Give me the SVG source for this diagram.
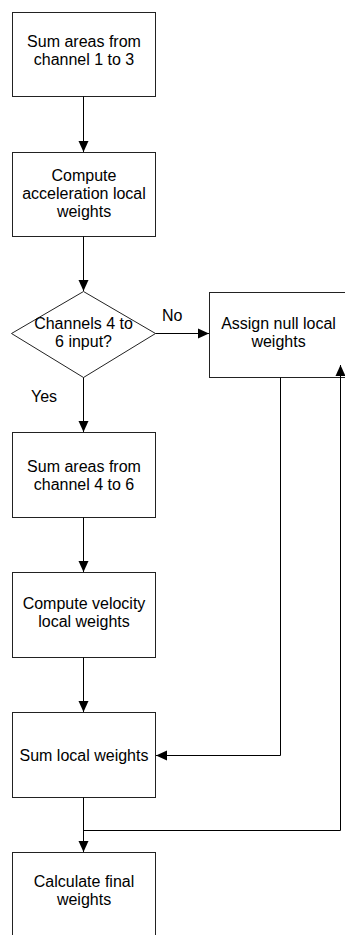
<svg xmlns="http://www.w3.org/2000/svg" width="345" height="935" viewBox="0 0 345 935">
<defs>
<style>
.box{fill:#fff;stroke:#222;stroke-width:1}
.t{font-family:"Liberation Sans",Arial,sans-serif;font-size:16px;fill:#000;text-anchor:middle}
.l{font-family:"Liberation Sans",Arial,sans-serif;font-size:16px;fill:#000}
.c{fill:none;stroke:#000;stroke-width:1}
</style>
<marker id="ah" markerWidth="11" markerHeight="11" viewBox="0 0 11 11" refX="11" refY="5.5" orient="auto" markerUnits="userSpaceOnUse">
<path d="M0,0.5 L11,5.5 L0,10.5 Z" fill="#000"/>
</marker>
</defs>
<rect width="345" height="935" fill="#fff"/>
<g id="n1"><rect class="box" x="12.5" y="12.5" width="143" height="84"/>
<text class="t" x="84" y="47">Sum areas from</text><text class="t" x="84" y="65">channel 1 to 3</text></g>
<g id="n2"><rect class="box" x="12.5" y="152.5" width="143" height="84"/>
<text class="t" x="84" y="181">Compute</text><text class="t" x="84" y="199">acceleration local</text><text class="t" x="84" y="216.5">weights</text></g>
<g id="n3"><polygon class="box" points="83.5,291.5 155.5,333.5 83.5,377.5 11.5,333.5"/>
<text class="t" x="83.5" y="329">Channels 4 to</text><text class="t" x="83.5" y="347">6 input?</text></g>
<g id="n4"><rect class="box" x="209.5" y="292.5" width="142" height="85"/>
<text class="t" x="278.5" y="329">Assign null local</text><text class="t" x="278.5" y="347">weights</text></g>
<g id="n5"><rect class="box" x="12.5" y="432.5" width="143" height="85"/>
<text class="t" x="84" y="471.5">Sum areas from</text><text class="t" x="84" y="489.5">channel 4 to 6</text></g>
<g id="n6"><rect class="box" x="12.5" y="572.5" width="143" height="85"/>
<text class="t" x="84" y="609">Compute velocity</text><text class="t" x="84" y="627">local weights</text></g>
<g id="n7"><rect class="box" x="12.5" y="712.5" width="143" height="85"/>
<text class="t" x="84" y="761">Sum local weights</text></g>
<g id="n8"><rect class="box" x="12.5" y="852.5" width="143" height="85"/>
<text class="t" x="84" y="887">Calculate final</text><text class="t" x="84" y="905">weights</text></g>
<g id="connectors">
<line class="c" x1="83.5" y1="96.5" x2="83.5" y2="152" marker-end="url(#ah)"/>
<line class="c" x1="83.5" y1="236.5" x2="83.5" y2="291" marker-end="url(#ah)"/>
<line class="c" x1="155.5" y1="333.5" x2="209" y2="333.5" marker-end="url(#ah)"/>
<line class="c" x1="83.5" y1="377.5" x2="83.5" y2="432" marker-end="url(#ah)"/>
<line class="c" x1="83.5" y1="517.5" x2="83.5" y2="572" marker-end="url(#ah)"/>
<line class="c" x1="83.5" y1="657.5" x2="83.5" y2="712" marker-end="url(#ah)"/>
<polyline class="c" points="280.5,377.5 280.5,755.5 156,755.5" marker-end="url(#ah)"/>
<line class="c" x1="83.5" y1="797.5" x2="83.5" y2="852" marker-end="url(#ah)"/>
<polyline class="c" points="83.5,830.5 340.5,830.5 340.5,365" marker-end="url(#ah)"/>
</g>
<g id="labels">
<text class="l" x="162" y="321">No</text>
<text class="l" x="31" y="401.5">Yes</text>
</g>
</svg>
